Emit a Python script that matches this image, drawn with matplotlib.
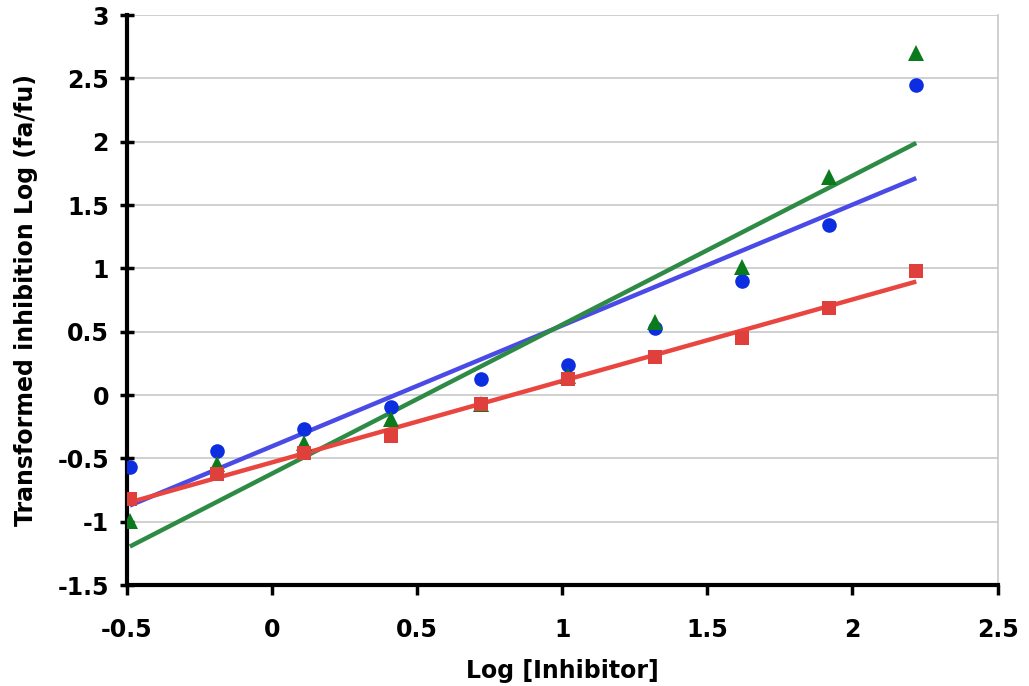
import numpy as np
import matplotlib
matplotlib.use("Agg")
import matplotlib.pyplot as plt

# Log [Inhibitor] values (two-fold dilution series)
log_inhibitor = [-0.49, -0.19, 0.11, 0.41, 0.72, 1.02, 1.32, 1.62, 1.92, 2.22]

# Transformed inhibition Log(fa/fu) for the three series
blue_vals = [-0.57, -0.44, -0.27, -0.09, 0.13, 0.24, 0.53, 0.90, 1.34, 2.45]
red_vals = [-0.82, -0.62, -0.46, -0.32, -0.07, 0.13, 0.30, 0.45, 0.69, 0.98]
green_vals = [-0.99, -0.54, -0.38, -0.19, -0.07, 0.15, 0.58, 1.01, 1.72, 2.70]

x_ticks = [-0.5, 0, 0.5, 1, 1.5, 2, 2.5]
y_ticks = [-1.5, -1, -0.5, 0, 0.5, 1, 1.5, 2, 2.5, 3]

plt.rcParams['font.family'] = ['DejaVu Sans']
fig = plt.figure(figsize=(10.29, 6.86), dpi=100)
ax = fig.add_axes([0.1234, 0.147, 0.846, 0.831])

x = np.array(log_inhibitor)
series = [
    (blue_vals, '#0d2ee0', '#4a4ae6', 'o', 10.5),
    (green_vals, '#0b7a1c', '#2e8b45', '^', 11.5),
    (red_vals, '#e0403c', '#e8463f', 's', 10),
]

# Least-squares trend lines
for vals, mcol, lcol, mk, ms in series:
    slope, intercept = np.polyfit(x, np.array(vals), 1)
    xs = np.array([x.min(), x.max()])
    ax.plot(xs, slope * xs + intercept, color=lcol, lw=3.2, zorder=2,
            solid_capstyle='butt')

for vals, mcol, lcol, mk, ms in series:
    ax.plot(x, vals, linestyle='none', marker=mk, markersize=ms,
            color=mcol, markeredgewidth=0, zorder=3)

ax.set_xlim(-0.5, 2.5)
ax.set_ylim(-1.5, 3)
ax.set_xticks(x_ticks)
ax.set_yticks(y_ticks)
ax.set_xticklabels(['-0.5', '0', '0.5', '1', '1.5', '2', '2.5'])
ax.set_yticklabels(['-1.5', '-1', '-0.5', '0', '0.5', '1', '1.5', '2', '2.5', '3'])

ax.yaxis.grid(True, color='#c8c8c8', lw=1.2)
ax.set_axisbelow(True)

for side in ['left', 'bottom']:
    ax.spines[side].set_linewidth(3)
    ax.spines[side].set_color('black')
ax.spines['right'].set_color('#c8c8c8')
ax.spines['right'].set_linewidth(1.2)
ax.spines['top'].set_visible(False)

ax.tick_params(axis='y', direction='inout', length=10, width=2.5, pad=8)
ax.tick_params(axis='x', direction='out', length=7, width=2.5, pad=17)
for lab in ax.get_xticklabels() + ax.get_yticklabels():
    lab.set_fontsize(17)
    lab.set_fontweight('bold')

ax.set_xlabel('Log [Inhibitor]', fontsize=17, fontweight='bold', labelpad=12)
ax.set_ylabel('Transformed inhibition Log (fa/fu)', fontsize=17,
              fontweight='bold', labelpad=14)

fig.savefig('out.png', dpi=100)
